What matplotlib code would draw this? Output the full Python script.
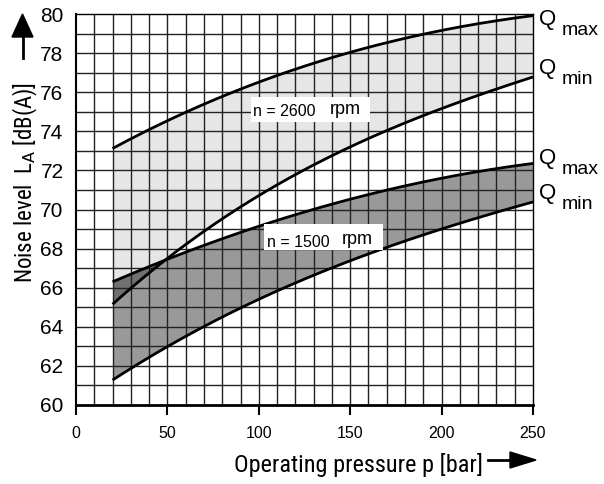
import numpy as np
import matplotlib
matplotlib.use("Agg")
import matplotlib.pyplot as plt
from matplotlib import font_manager as fm
from matplotlib.patches import Rectangle

# data
p = [20, 40, 60, 80, 100, 120, 140, 160, 180, 200, 220, 240, 250]
qmax_2600 = [73.1, 74.1, 75.0, 75.8, 76.5, 77.15, 77.75, 78.3, 78.75, 79.2, 79.5, 79.8, 79.9]
qmin_2600 = [65.2, 66.7, 68.2, 69.5, 70.7, 71.8, 72.8, 73.7, 74.4, 75.1, 75.8, 76.5, 76.8]
qmax_1500 = [66.3, 67.1, 67.8, 68.5, 69.1, 69.75, 70.3, 70.8, 71.2, 71.6, 71.9, 72.2, 72.4]
qmin_1500 = [61.3, 62.4, 63.5, 64.5, 65.45, 66.25, 67.0, 67.7, 68.4, 69.0, 69.6, 70.1, 70.4]
xticks = [0, 50, 100, 150, 200, 250]
yticks = list(range(60, 81, 2))

plt.rcParams['font.family'] = ['Liberation Sans', 'DejaVu Sans']

# condensed face for the axis titles if one is around
names = {f.name for f in fm.fontManager.ttflist}
narrow = 'Liberation Sans'
for n in ['Liberation Sans Narrow', 'DejaVu Sans Condensed', 'Roboto Condensed', 'Open Sans Condensed']:
    if n in names:
        narrow = n
        break

fig = plt.figure(figsize=(6.04, 4.84), dpi=100)
ax = fig.add_axes([76 / 604, 1 - 405 / 484, 457 / 604, 391 / 484])

# smooth curves through the read points
ps = np.linspace(20, 250, 200)
def sm(v):
    return np.polyval(np.polyfit(p, v, 3), ps)

a, b, c, d = sm(qmax_2600), sm(qmin_2600), sm(qmax_1500), sm(qmin_1500)

ax.fill_between(ps, b, a, color='#e6e6e6', lw=0, zorder=1)
ax.fill_between(ps, d, c, color='#999999', lw=0, zorder=1.1)
ax.fill_between(ps, b, c, where=b < c, interpolate=True, color='#707070', lw=0, zorder=1.2)

# grid
for gx in range(10, 250, 10):
    ax.axvline(gx, color='#222222', lw=1.0, zorder=2)
for gy in range(61, 80):
    ax.axhline(gy, color='#222222', lw=1.0, zorder=2)

for v in (a, b, c, d):
    ax.plot(ps, v, color='black', lw=2.0, zorder=4, solid_capstyle='butt')

# rpm labels
ax.add_patch(Rectangle((95.7, 74.48), 65.1, 1.27, facecolor='white', edgecolor='none', zorder=5))
ax.add_patch(Rectangle((102.8, 67.93), 65.2, 1.33, facecolor='white', edgecolor='none', zorder=5))
ax.text(97.0, 75.0, 'n = 2600', fontsize=11.5, va='center', ha='left', zorder=6)
ax.text(139, 75.1, 'rpm', fontsize=13, va='center', ha='left', zorder=6)
ax.text(104.3, 68.3, 'n = 1500', fontsize=11.5, va='center', ha='left', zorder=6)
ax.text(145.5, 68.45, 'rpm', fontsize=13, va='center', ha='left', zorder=6)

# Q labels on the right
for yq, sub in [(79.7, 'max'), (77.2, 'min'), (72.6, 'max'), (70.8, 'min')]:
    ax.text(253.5, yq, 'Q', fontsize=16, va='center', ha='left', clip_on=False)
    ax.text(265.5, yq - 0.55, sub, fontsize=14, va='center', ha='left', clip_on=False)

ax.set_xlim(0, 250)
ax.set_ylim(60, 80)
ax.set_xticks(xticks)
ax.set_yticks(yticks)
ax.tick_params(axis='x', direction='out', length=7, width=1.5, labelsize=11.5, pad=8)
ax.tick_params(axis='y', length=0, labelsize=15, pad=9)
for s in ax.spines.values():
    s.set_linewidth(1.0)
ax.spines['bottom'].set_linewidth(2.0)
ax.spines['left'].set_linewidth(1.5)

fig.text(25 / 604, 1 - 183 / 484, r'Noise level  L$_\mathrm{A}$ [dB(A)]', rotation=90,
         fontsize=16.5, family=narrow, stretch='condensed', ha='center', va='center')
fig.text(359 / 604, 1 - 465 / 484, 'Operating pressure p [bar]', fontsize=17.5,
         family=narrow, stretch='condensed', ha='center', va='center')

# arrows
fig.patches.append(plt.Polygon([(12 / 604, 1 - 37 / 484), (33 / 604, 1 - 37 / 484), (22.5 / 604, 1 - 14 / 484)],
                               closed=True, color='black', transform=fig.transFigure))
fig.add_artist(plt.Line2D([22.5 / 604, 22.5 / 604], [1 - 58 / 484, 1 - 36 / 484], color='black', lw=2,
                          transform=fig.transFigure))
fig.patches.append(plt.Polygon([(510 / 604, 1 - 452 / 484), (510 / 604, 1 - 468 / 484), (536 / 604, 1 - 460 / 484)],
                               closed=True, color='black', transform=fig.transFigure))
fig.add_artist(plt.Line2D([488 / 604, 512 / 604], [1 - 460 / 484, 1 - 460 / 484], color='black', lw=2,
                          transform=fig.transFigure))

fig.savefig('out.png', dpi=100)
